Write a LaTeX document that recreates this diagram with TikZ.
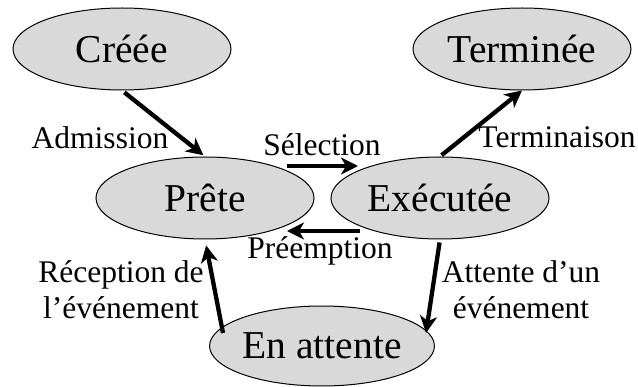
\documentclass[tikz,border=0pt]{standalone}
\usepackage{fontspec}
\setmainfont{Liberation Serif}
\usetikzlibrary{shapes.geometric,arrows.meta,calc}
\definecolor{stategray}{RGB}{217,217,217}
\tikzset{
  state/.style={ellipse,draw=black,line width=1pt,fill=stategray,minimum width=218pt,minimum height=82pt,inner sep=0pt,font=\fontsize{39.5}{44}\selectfont},
  trans/.style={line width=4.3pt,-{Stealth[length=17pt,width=17pt,inset=5pt]}},
  lbl/.style={font=\fontsize{31.5}{36}\selectfont,align=center,inner sep=0pt}
}
\begin{document}
\begin{tikzpicture}[x=1pt,y=-1pt]
\useasboundingbox (0,0) rectangle (638,387);
\node[state] (creee) at (122,49) {Créée};
\node[state] (term) at (522,49) {Terminée};
\node[state] (prete) at (205,198) {Prête};
\node[state] (exec) at (440,198) {Exécutée};
\node[state,minimum height=80pt] (att) at (322,346) {En attente};

\draw[trans,shorten <=3pt,shorten >=2pt] (creee.south) -- (prete.north);
\draw[trans] ($(prete.center)+(82,-32)$) -- ($(exec.center)+(-82,-32)$);
\draw[trans] ($(exec.center)+(-80,33)$) -- ($(prete.center)+(82,33)$);
\draw[trans,shorten <=2pt] (exec.north) -- (term.south);
\draw[trans,shorten <=3pt] (exec.south) -- ($(att.center)+(104,-13)$);
\draw[trans,shorten >=6pt] ($(att.center)+(-99,-13)$) -- (prete.south);

\node[lbl] (ladm) at (100,138) {Admission};
\node[lbl] (lsel) at (322,145) {Sélection};
\node[lbl] (lpre) at (320,251) {Préemption};
\node[lbl] (lter) at (557,137) {Terminaison};
\node[lbl] (latt) at (521,290) {Attente d’un\\événement};
\node[lbl] (lrec) at (121,290) {Réception de\\l’événement};
\end{tikzpicture}
\end{document}
